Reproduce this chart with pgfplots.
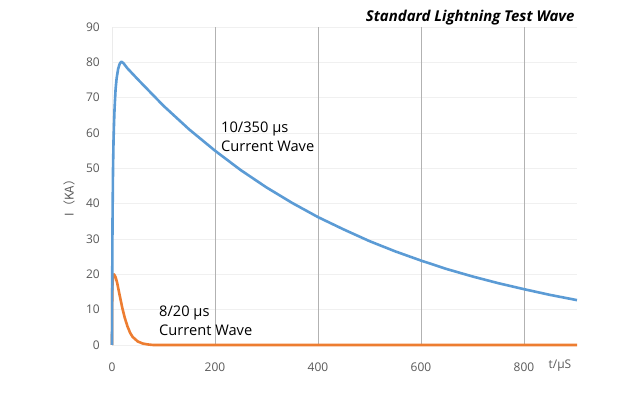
\documentclass[border=0pt]{standalone}
\usepackage{pgfplots}
\pgfplotsset{compat=1.18}
\usepackage{fontspec}
\setmainfont{Open Sans}
\newfontfamily\cjk{Noto Sans CJK SC}
\definecolor{wblue}{HTML}{5B9BD5}
\definecolor{worange}{HTML}{ED7D31}
\definecolor{ticktxt}{HTML}{595959}
\begin{document}
\begin{tikzpicture}
\useasboundingbox (0,0) rectangle (640bp,398bp);
\begin{axis}[
  at={(112bp,53bp)}, anchor=south west,
  scale only axis, width=465bp, height=318bp,
  xmin=0, xmax=903, ymin=0, ymax=90,
  axis line style={draw=none},
  xtick={0,200,400,600,800}, ytick={0,10,...,90},
  major tick length=0pt,
  ymajorgrids, major grid style={draw=black!6, line width=0.8bp},
  /pgf/number format/assume math mode=true,
  tick label style={font=\fontsize{12}{14}\selectfont, text=ticktxt},
  xticklabel style={inner sep=0pt, anchor=center, yshift=-22bp},
  yticklabel style={inner sep=0pt, anchor=east, xshift=-12bp},
  clip=false,
]
\draw[black!8, line width=0.8bp] (axis cs:0,0) -- (axis cs:0,90);
\foreach \xx in {200,400,600,800}{
  \edef\tmp{\noexpand\draw[black!30, line width=0.9bp] (axis cs:\xx,0) -- (axis cs:\xx,90);}
  \tmp
}
\addplot[worange, line width=2.6bp, line join=round] coordinates {
(0,0) (0.5,16) (2,19.5) (4,20) (7,19.2) (10,17.6) (15,14) (20,10.5) (25,7.6) (30,5.3) (35,3.5) (40,2.3) (50,1) (60,0.4) (70,0.15) (80,0) (903,0)
};
\addplot[wblue, line width=2.6bp, line join=round] coordinates {
(0,0) (0.5,20) (1,35) (2,50) (3,58) (4,63) (5,67) (7,72.5) (9,75.5) (12,78.2) (15,79.6) (18,80.2) (22,79.8)
(30,78.3) (50,75.2) (100,67.7) (150,61.0) (200,55.0) (250,49.5) (300,44.6) (350,40.2) (400,36.2)
(450,32.7) (500,29.4) (550,26.5) (600,23.9) (650,21.5) (700,19.4) (750,17.5) (800,15.8) (850,14.2) (903,12.7)
};
\end{axis}
\node[anchor=east, font=\fontsize{15}{18}\selectfont\bfseries\itshape] at (578bp,380bp) {Standard Lightning Test Wave};
\node[anchor=center, font=\fontsize{12}{14}\selectfont, text=ticktxt, inner sep=0pt] at (560bp,32bp) {t/μS};
\node[rotate=90, anchor=center, font=\cjk\fontsize{12}{14}\selectfont, text=ticktxt, inner sep=0pt] at (69bp,203bp) {I（KA）};
\node[anchor=west, align=left, inner sep=0pt, font=\fontsize{14.7}{19}\selectfont] at (221bp,261.5bp) {10/350 μs\\Current Wave};
\node[anchor=west, align=left, inner sep=0pt, font=\fontsize{14.7}{19}\selectfont] at (159bp,77.5bp) {8/20 μs\\Current Wave};
\end{tikzpicture}
\end{document}
